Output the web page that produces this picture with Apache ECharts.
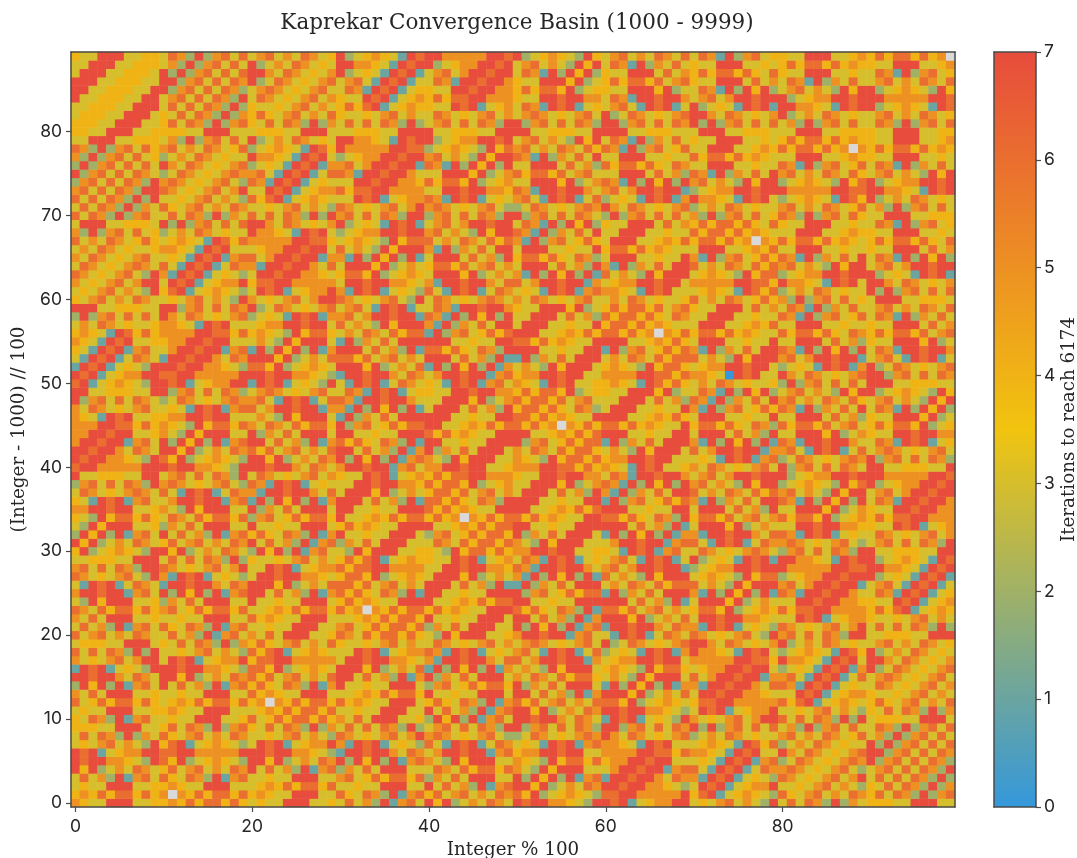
<!DOCTYPE html>
<html>
<head>
<meta charset="utf-8">
<style>html,body{margin:0;padding:0;background:#fff}#c{width:1077px;height:858px}</style>
<script src="https://cdn.jsdelivr.net/npm/echarts@6/dist/echarts.min.js"></script>
</head>
<body>
<div id="c"></div>
<script>
// Iterations per cell, one string per row (bottom to top), 'x' = no value (grey cell).
const rows1000s = [
"5433777334 4546466464 3433777334 3635271563 7472353653 7677554327 7671345577 3435635327 3636527253 4443377733",
"4546466464 5x54646646 4543377733 6436527156 4635635365 6472345432 6677555557 4671345432 6435635365 4636527256",
"3433777334 4543377733 3454646646 3343377733 7363527156 7747235365 7767755432 3767134557 3343563532 4363652725",
"3635271563 6436527156 3343377733 5634646646 2536377733 7274727156 1776775365 5176713432 6534356357 3636365272",
"7472353653 4635635365 7363527156 2536377733 3653646646 5327477733 3577677156 6317671365 5653435632 3563636527",
"7677554327 6472345432 7747235365 7274727156 5327477733 5432746646 4557767733 3431767156 2365343565 7256363652",
"7671345577 6677555557 7767755432 1776775365 3577677156 4557767733 5555776646 5543176733 7536534356 7725636365",
"3435635327 4671345432 3767134557 5176713432 6317671365 3431767156 5543176733 3454317646 2353653433 7272563636",
"3636527253 6435635365 3343563532 6534356357 5653435632 2365343565 7536534356 2353653433 5635365346 3527256363",
"4443377733 4636527256 4363652725 3636365272 3563636527 7256363652 7725636365 7272563636 3527256363 3652725636"
];
const rows2000s = [
"4365271563 3433777334 6346466464 5363777334 2747271563 7767753653 1767134327 5343563577 6363652727 3444337773",
"3433777334 4543377733 3454646646 3343377733 7363527156 7747235365 7767755432 3767134557 3343563532 4363652725",
"6346466464 3454646646 45x5464664 6454337773 4643652715 6463563536 6647234543 4667755555 6467134543 4643563536",
"5363777334 3343377733 6454337773 3345464664 7334337773 7736352715 7774723536 3776775543 3376713455 4334356353",
"2747271563 7363527156 4643652715 7334337773 2563464664 7253637773 1727472715 5177677536 6517671343 3653435635",
"7767753653 7747235365 6463563536 7736352715 7253637773 5365364664 3532747773 6357767715 5631767136 3565343563",
"1767134327 7767755432 6647234543 7774723536 1727472715 3532747773 4543274664 3455776773 2343176715 7236534356",
"5343563577 3767134557 4667755555 3776775543 5177677536 6357767715 3455776773 5555577664 7554317673 7753653435",
"6363652727 3343563532 6467134543 3376713455 6517671343 5631767136 2343176715 7554317673 2345431764 7235365343",
"3444337773 4363652725 4643563536 4334356353 3653435635 3565343563 7236534356 7753653435 7235365343 3563536534"
];
const rows3000s = [
"6356353653 3635271563 5363777334 6536466464 3274777334 5776771563 3176713653 6534356327 5636365277 3344433777",
"3635271563 6436527156 3343377733 5634646646 2536377733 7274727156 1776775365 5176713432 6534356357 3636365272",
"5363777334 3343377733 6454337773 3345464664 7334337773 7736352715 7774723536 3776775543 3376713455 4334356353",
"6536466464 5634646646 3345464664 645x546466 4645433777 6464365271 6646356353 4664723454 6466775555 4646713454",
"3274777334 2536377733 7334337773 4645433777 7334546466 7733433777 7773635271 3777472353 3377677554 4337671345",
"5776771563 7274727156 7736352715 6464365271 7733433777 7256346466 1725363777 5172747271 6517767753 3651767134",
"3176713653 1776775365 7774723536 6646356353 7773635271 1725363777 3536536466 6353274777 5635776771 3563176713",
"6534356327 5176713432 3776775543 4664723454 3777472353 5172747271 6353274777 3454327466 2345577677 7234317671",
"5636365277 6534356357 3376713455 6466775555 3377677554 6517767753 5635776771 2345577677 7555557766 7755431767",
"3344433777 3636365272 4334356353 4646713454 4337671345 3651767134 3563176713 7234317671 7755431767 7234543176"
];
const rows4000s = [
"4723454327 7472353653 2747271563 3274777334 4327466464 5577677334 4317671563 3653435653 2563636527 7334443377",
"7472353653 4635635365 7363527156 2536377733 3653646646 5327477733 3577677156 6317671365 5653435632 3563636527",
"2747271563 7363527156 4643652715 7334337773 2563464664 7253637773 1727472715 5177677536 6517671343 3653435635",
"3274777334 2536377733 7334337773 4645433777 7334546466 7733433777 7773635271 3777472353 3377677554 4337671345",
"4327466464 3653646646 2563464664 7334546466 4645x54646 6464543377 6646436527 4664635635 6466472345 4646677555",
"5577677334 5327477733 7253637773 7733433777 6464543377 7733454646 7773343377 3777363527 3377747235 4337767755",
"4317671563 3577677156 1727472715 7773635271 6646436527 7773343377 1725634646 5172536377 6517274727 3651776775",
"3653435653 6317671365 5177677536 3777472353 4664635635 3777363527 5172536377 6353653646 5635327477 3563577677",
"2563636527 5653435632 6517671343 3377677554 6466472345 3377747235 6517274727 5635327477 2345432746 7234557767",
"7334443377 3563636527 3653435635 4337671345 4646677555 4337767755 3651776775 3563577677 7234557767 7755555776"
];
const rows5000s = [
"6775555577 7677554327 7767753653 5776771563 5577677334 5557766464 5431767334 5365343563 7256363653 7733444337",
"7677554327 6472345432 7747235365 7274727156 5327477733 5432746646 4557767733 3431767156 2365343565 7256363652",
"7767753653 7747235365 6463563536 7736352715 7253637773 5365364664 3532747773 6357767715 5631767136 3565343563",
"5776771563 7274727156 7736352715 6464365271 7733433777 7256346466 1725363777 5172747271 6517767753 3651767134",
"5577677334 5327477733 7253637773 7733433777 6464543377 7733454646 7773343377 3777363527 3377747235 4337767755",
"5557766464 5432746646 5365364664 7256346466 7733454646 64645x5464 6646454337 4664643652 6466463563 4646647234",
"5431767334 4557767733 3532747773 1725363777 7773343377 6646454337 7773345464 3777334337 3377736352 4337774723",
"5365343563 3431767156 6357767715 5172747271 3777363527 4664643652 3777334337 5172563464 6517253637 3651727472",
"7256363653 2365343565 5631767136 6517767753 3377747235 6466463563 3377736352 6517253637 5635365364 3563532747",
"7733444337 7256363652 3565343563 3651767134 4337767755 4646647234 4337774723 3651727472 3563532747 7234543274"
];
const rows6000s = [
"6713454327 7671345577 1767134327 3176713653 4317671563 5431767334 4543176464 3536534334 2725636363 7773344433",
"7671345577 6677555557 7767755432 1776775365 3577677156 4557767733 5555776646 5543076733 7536534356 7725636365",
"1767134327 7767755432 6647234543 7774723536 1727472715 3532747773 4543274664 3455776773 2343176715 7236534356",
"3176713653 1776775365 7774723536 6646356353 7773635271 1725363777 3536536466 6353274777 5635776771 3563176713",
"4317671563 3577677156 1727472715 7773635271 6646436527 7773343377 1725634646 5172536377 6517274727 3651776775",
"5431767334 4557767733 3532747773 1725363777 7773343377 6646454337 7773345464 3777334337 3377736352 4337774723",
"4543176464 5555776646 4543274664 3536536466 1725634646 7773345464 664645x546 4664645433 6466464365 4646646356",
"3536534334 5543176733 3455776773 6353274777 5172536377 3777334337 4664645433 3777334546 3377733433 4337773635",
"2725636363 7536534356 2343176715 5635776771 6517274727 3377736352 6466464365 3377733433 6517256346 3651725363",
"7773344433 7725636365 7236534356 3563176713 3651776775 4337774723 4646646356 4337773635 3651725363 3563536536"
];
const rows7000s = [
"4356353653 3435635327 5343563577 6534356327 3653435653 5365343563 3536534334 6353653464 5272563634 3777334443",
"3435635327 4671345432 3767134557 5176713432 6317671365 3431767156 5543176733 3454317646 2353653433 7272563636",
"5343563577 3767134557 4667755555 3776775543 5177677536 6357767715 3455776773 5555577664 7554317673 7753653435",
"6534356327 5176713432 3776775543 4664723454 3777472353 5172747271 6353274777 3454327466 2345577677 7234317671",
"3653435653 6317671365 5177677536 3777472353 4664635635 3777363527 5172536377 6353653646 5635327477 3563577677",
"5365343563 3431767156 6357767715 5172747271 3777363527 4664643652 3777334337 5172563464 6517253637 3651727472",
"3536534334 5543176733 3455776773 6353274777 5172536377 3777334337 4664645433 3777334546 3377733433 4337773635",
"6353653464 3454317646 5555577664 3454327466 6353653646 5172563464 3777334546 4664645x54 6466464543 4646646436",
"5272563634 2353653433 7554317673 2345577677 5635327477 6517253637 3377733433 6466464543 3377733454 4337773343",
"3777334443 7272563636 7753653435 7234317671 3563577677 3651727472 4337773635 4646646436 4337773343 3651725634"
];
const rows8000s = [
"6365272563 3636527253 6363652727 5636365277 2563636527 7256363653 2725636363 5272563634 6527256364 3377733444",
"3636527253 6435635365 3343563532 6534356357 5653435632 2365343565 7536534356 2353653433 5635365346 3527256363",
"6363652727 3343563532 6467134543 3376713455 6517671343 5631767136 2343176715 7554317673 2345431764 7235365343",
"5636365277 6534356357 3376713455 6466775555 3377677554 6517767753 5635776771 2345577677 7555557766 7755431767",
"2563636527 5653435632 6517671343 3377677554 6466472345 3377747235 6517274727 5635327477 2345432746 7234557767",
"7256363653 2365343565 5631767136 6517767753 3377747235 6466463563 3377736352 6517253637 5635365364 3563532747",
"2725636363 7536534356 2343176715 5635776771 6517274727 3377736352 6466464365 3377733433 6517256346 3651725363",
"5272563634 2353653433 7554317673 2345577677 5635327477 6517253637 3377733433 6466464543 3377733454 4337773343",
"6527256364 5635365346 2345431764 7555557766 2345432746 5635365364 6517256346 3377733454 64664645x5 4646646454",
"3377733444 3527256363 7235365343 7755431767 7234557767 3563532747 3651725363 4337773343 4646646454 4337773345"
];
const rows9000s = [
"4433777334 4443377733 3444337773 3344433777 7334443377 7733444337 7773344433 3777334443 3377733444 4337773344",
"4443377733 4636527256 4363652725 3636365272 3563636527 7256363652 7725636365 7272563636 3527256363 3652725636",
"3444337773 4363652725 4643563536 4334356353 3653435635 3565343563 7236534356 7753653435 7235365343 3563536534",
"3344433777 3636365272 4334356353 4646713454 4337671345 3651767134 3563176713 7234317671 7755431767 7234543176",
"7334443377 3563636527 3653435635 4337671345 4646677555 4337767755 3651776775 3563577677 7234557767 7755555776",
"7733444337 7256363652 3565343563 3651767134 4337767755 4646647234 4337774723 3651727472 3563532747 7234543274",
"7773344433 7725636365 7236534356 3563176713 3651776775 4337774723 4646646356 4337773635 3651725363 3563536536",
"3777334443 7272563636 7753653435 7234317671 3563577677 3651727472 4337773635 4646646436 4337773343 3651725634",
"3377733444 3527256363 7235365343 7755431767 7234557767 3563532747 3651725363 4337773343 4646646454 4337773345",
"4337773344 3652725636 3563536534 7234543176 7755555776 7234543274 3563536536 3651725634 4337773345 464664645x"
];
const allRows = [].concat(rows1000s, rows2000s, rows3000s, rows4000s, rows5000s, rows6000s, rows7000s, rows8000s, rows9000s);
const xLabels = Array.from({length: 100}, (_, i) => String(i));
const yLabels = Array.from({length: 90}, (_, i) => String(i));
const colourStops = ['#3498db', '#f1c40f', '#e74c3c'];
const titleText = 'Kaprekar Convergence Basin (1000 - 9999)';
const xName = 'Integer % 100';
const yName = '(Integer - 1000) // 100';
const barName = 'Iterations to reach 6174';

const cells = [], blanks = [];
allRows.forEach((row, y) => {
  row.replace(/ /g, '').split('').forEach((ch, x) => {
    if (ch === 'x') blanks.push([x, y, 1]);
    else cells.push([x, y, Number(ch)]);
  });
});

const SERIF = '"DejaVu Serif", serif';
const SANS = 'Inter, "Noto Sans", sans-serif';
const INK = '#262626';
const SPINE = '#4a4a4a';
const line = {show: true, onZero: false, lineStyle: {color: SPINE, width: 1.5}};
const none = {show: false};

const chart = echarts.init(document.getElementById('c'), null, {renderer: 'canvas'});
chart.setOption({
  animation: false,
  backgroundColor: '#fff',
  title: {text: titleText, left: 512, top: 7, textAlign: 'center',
    textStyle: {fontFamily: SERIF, fontSize: 21.5, fontWeight: 'normal', color: INK}},
  grid: [
    {left: 71, top: 52, width: 884, height: 755, outerBoundsMode: 'none'},
    {left: 994, top: 52, width: 42, height: 755, outerBoundsMode: 'none'}
  ],
  visualMap: {show: false, type: 'continuous', min: 0, max: 7, seriesIndex: 0, dimension: 2,
    inRange: {color: colourStops}},
  xAxis: [
    {type: 'category', gridIndex: 0, data: xLabels, position: 'bottom', z: 10,
      name: xName, nameLocation: 'middle', nameGap: 34,
      nameTextStyle: {fontFamily: SERIF, fontSize: 18.3, color: INK},
      axisLine: line,
      axisTick: {show: true, alignWithLabel: true, interval: 19, length: 5, lineStyle: {color: SPINE, width: 1.2}},
      axisLabel: {interval: 19, margin: 11, fontFamily: SANS, fontSize: 17.5, color: INK},
      splitLine: none},
    {type: 'category', gridIndex: 0, data: xLabels, position: 'top', z: 10,
      axisLine: line, axisTick: none, axisLabel: none, splitLine: none},
    {type: 'category', gridIndex: 1, data: [''], position: 'bottom', z: 10,
      axisLine: line, axisTick: none, axisLabel: none, splitLine: none},
    {type: 'category', gridIndex: 1, data: [''], position: 'top', z: 10,
      axisLine: line, axisTick: none, axisLabel: none, splitLine: none}
  ],
  yAxis: [
    {type: 'category', gridIndex: 0, data: yLabels, position: 'left', z: 10,
      name: yName, nameLocation: 'middle', nameGap: 41,
      nameTextStyle: {fontFamily: SERIF, fontSize: 18.3, color: INK},
      axisLine: line,
      axisTick: {show: true, alignWithLabel: true, interval: 9, length: 5, lineStyle: {color: SPINE, width: 1.2}},
      axisLabel: {interval: 9, margin: 9, padding: [4, 0, 0, 0], fontFamily: SANS, fontSize: 17.5, color: INK},
      splitLine: none},
    {type: 'category', gridIndex: 0, data: yLabels, position: 'right', z: 10,
      axisLine: line, axisTick: none, axisLabel: none, splitLine: none},
    {type: 'value', gridIndex: 1, min: 0, max: 7, interval: 1, position: 'right', z: 10,
      name: barName, nameLocation: 'middle', nameGap: 24, nameRotate: 90,
      nameTextStyle: {fontFamily: SERIF, fontSize: 18.3, color: INK},
      axisLine: line,
      axisTick: {show: true, length: 5, lineStyle: {color: SPINE, width: 1.2}},
      axisLabel: {margin: 8, padding: [4, 0, 0, 0], fontFamily: SANS, fontSize: 17.5, color: INK},
      splitLine: none},
    {type: 'value', gridIndex: 1, min: 0, max: 7, position: 'left', z: 10,
      axisLine: line, axisTick: none, axisLabel: none, splitLine: none}
  ],
  series: [
    {type: 'heatmap', xAxisIndex: 0, yAxisIndex: 0, data: cells, progressive: 0,
      itemStyle: {borderWidth: 0}, emphasis: {disabled: true}},
    {type: 'heatmap', xAxisIndex: 0, yAxisIndex: 0, data: blanks, progressive: 0,
      itemStyle: {color: '#d9d9d9', borderWidth: 0}, emphasis: {disabled: true}},
    {type: 'bar', xAxisIndex: 2, yAxisIndex: 2, data: [7], barWidth: '100%', silent: true,
      itemStyle: {color: new echarts.graphic.LinearGradient(0, 0, 0, 1, [
        {offset: 0, color: colourStops[2]},
        {offset: 0.5, color: colourStops[1]},
        {offset: 1, color: colourStops[0]}
      ])}}
  ]
});
</script>
</body>
</html>
